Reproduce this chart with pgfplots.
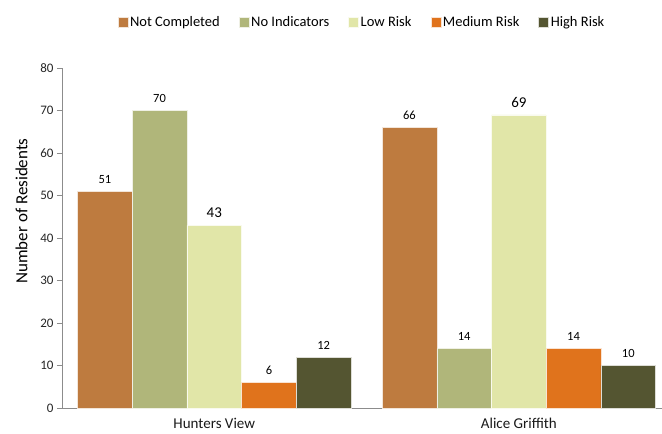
\documentclass[border=0pt]{standalone}
\usepackage{pgfplots}
\pgfplotsset{compat=1.18}
\usepackage{fontspec}
\setmainfont{Carlito}
\definecolor{cNC}{HTML}{BE7B3F}
\definecolor{cNI}{HTML}{B0B67A}
\definecolor{cLR}{HTML}{E1E6A8}
\definecolor{cMR}{HTML}{E0731C}
\definecolor{cHR}{HTML}{545531}
\definecolor{axgray}{HTML}{8C8C8C}
\begin{document}
\begin{tikzpicture}
\begin{axis}[
  at={(0,0)}, anchor=south west,
  scale only axis, width=600pt, height=340pt,
  xmin=-0.5, xmax=1.470, ymin=0, ymax=80,
  ybar=0pt, bar width=0.1796,
  axis x line=bottom, axis y line=left,
  axis line style={axgray, line width=0.8pt, -},
  xtick={0,1}, xticklabels={Hunters View, Alice Griffith},
  x tick style={draw=none},
  ytick={0,10,...,80},
  y tick style={axgray, line width=0.8pt},
  tick align=outside, major tick length=5pt,
  /pgf/number format/assume math mode=true,
  yticklabel style={font=\fontsize{13}{15}\selectfont, text=black!85},
  xticklabel style={font=\fontsize{15}{17}\selectfont, text=black!90, yshift=-2pt},
  ylabel={Number of Residents},
  ylabel style={font=\fontsize{17}{19}\selectfont, text=black, yshift=6pt, xshift=27pt},
  legend style={at={(0.5,1)}, anchor=south, yshift=36pt, draw=none,
    legend columns=-1, font=\fontsize{14.5}{16}\selectfont,
    /tikz/every even column/.append style={column sep=17pt}},
  legend image code/.code={\fill[#1] (0pt,-5pt) rectangle (10pt,5pt);},
  nodes near coords,
  every node near coord/.append style={font=\fontsize{12.5}{14}\selectfont, yshift=4pt},
  clip=false,
]
\addplot[fill=cNC, draw=white!80!cNC, bar shift=-0.3592] coordinates {(0,51) (1,66)};
\addplot[fill=cNI, draw=white!80!cNI, bar shift=-0.1796] coordinates {(0,70) (1,14)};
\addplot[fill=cLR, draw=white!80!cLR, bar shift=0,
  every node near coord/.append style={font=\fontsize{15}{17}\selectfont}] coordinates {(0,43) (1,69)};
\addplot[fill=cMR, draw=white!80!cMR, bar shift=0.1796] coordinates {(0,6) (1,14)};
\addplot[fill=cHR, draw=white!80!cHR, bar shift=0.3592] coordinates {(0,12) (1,10)};
\legend{Not Completed, No Indicators, Low Risk, Medium Risk, High Risk}
\end{axis}
\pgfresetboundingbox
\path (-62pt,-26pt) rectangle (600pt,408pt);
\end{tikzpicture}
\end{document}
